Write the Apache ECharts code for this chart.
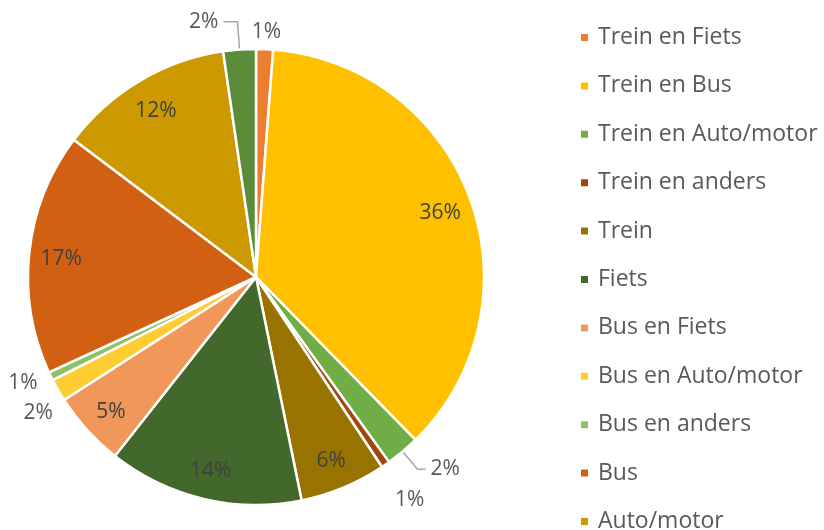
<!DOCTYPE html>
<html>
<head>
<meta charset="utf-8">
<script src="https://cdn.jsdelivr.net/npm/echarts@6/dist/echarts.min.js"></script>
<style>
  html, body { margin: 0; padding: 0; background: #fff; }
  #chart { width: 824px; height: 530px; }
</style>
</head>
<body>
<div id="chart"></div>
<script>
// vervoerswijze en aandeel (%), met de klok mee vanaf boven
const categories = [
  "Trein en Fiets", "Trein en Bus", "Trein en Auto/motor", "Trein en anders",
  "Trein", "Fiets", "Bus en Fiets", "Bus en Auto/motor", "Bus en anders",
  "Bus", "Auto/motor", "Anders"
];
const shares = [1.2, 36.4, 2.4, 0.6, 6.1, 13.8, 5.3, 1.6, 0.6, 17.1, 12.4, 2.3];
// legenda is onderaan afgesneden: laatste item niet zichtbaar
const legendNames = categories.slice(0, 11);

const colors = [
  "#ED7D31", "#FFC000", "#70AD47", "#9E480E", "#997300", "#43682B",
  "#F1975A", "#FFCD33", "#8CC168", "#D26012", "#CC9A00", "#5B8C3A"
];

// kleine stukken krijgen een label buiten de taart
const outsideLabels = {
  "Trein en Fiets": { line: false, length: 6, length2: 0, dx: -18, dy: -11 },
  "Trein en Auto/motor": { line: true, length: 23, length2: 8 },
  "Trein en anders": { line: false, length: 22, length2: 0, dx: -8, dy: 17 },
  "Bus en Auto/motor": { line: false, length: 14, length2: 0, dx: 12, dy: 16 },
  "Bus en anders": { line: false, length: 8, length2: 0, dx: -1, dy: 3 },
  "Anders": { line: true, length: 28, length2: 14 },
};

const FONT = "Open Sans";
const center = [256, 277];
const radius = 228;

const fmt = (p) => Math.round(p.value) + "%";

const chart = echarts.init(document.getElementById("chart"));

const mainData = categories.map((name, i) => {
  const out = outsideLabels[name];
  return {
    name,
    value: shares[i],
    itemStyle: { color: colors[i] },
    label: { show: !!out },
    labelLine: out
      ? { show: out.line, length: out.length, length2: out.length2 }
      : { show: false },
  };
});

// doorzichtige ring om de binnenlabels dicht bij de rand te zetten
const ringData = categories.map((name, i) => ({
  name,
  value: shares[i],
  label: { show: !outsideLabels[name] },
}));

chart.setOption({
  animation: false,
  legend: {
    orient: "vertical",
    left: 579,
    top: 26,
    height: 700,
    padding: 0,
    data: legendNames,
    icon: "rect",
    itemWidth: 9,
    itemHeight: 9,
    itemGap: 25.4,
    selectedMode: false,
    textStyle: {
      fontFamily: FONT,
      fontSize: 23,
      color: "#595959",
      lineHeight: 22,
      padding: [0, 0, 0, 4],
    },
  },
  series: [
    {
      type: "pie",
      center,
      radius,
      startAngle: 90,
      clockwise: true,
      avoidLabelOverlap: false,
      silent: true,
      itemStyle: { borderColor: "#fff", borderWidth: 2.5 },
      label: {
        position: "outside",
        formatter: fmt,
        fontFamily: FONT,
        fontSize: 21,
        color: "#595959",
      },
      labelLine: {
        lineStyle: { color: "#A6A6A6", width: 1.5 },
      },
      labelLayout: (p) => {
        const out = outsideLabels[categories[p.dataIndex]];
        if (out && !out.line) {
          return { hideOverlap: false, dx: out.dx, dy: out.dy };
        }
        return { hideOverlap: false };
      },
      data: mainData,
    },
    {
      type: "pie",
      center,
      radius: [158, radius],
      startAngle: 90,
      clockwise: true,
      silent: true,
      avoidLabelOverlap: false,
      itemStyle: { color: "transparent", borderWidth: 0 },
      label: {
        position: "inside",
        formatter: fmt,
        fontFamily: FONT,
        fontSize: 21,
        color: "#404040",
      },
      labelLine: { show: false },
      labelLayout: { dy: 3 },
      data: ringData,
    },
  ],
});
</script>
</body>
</html>
